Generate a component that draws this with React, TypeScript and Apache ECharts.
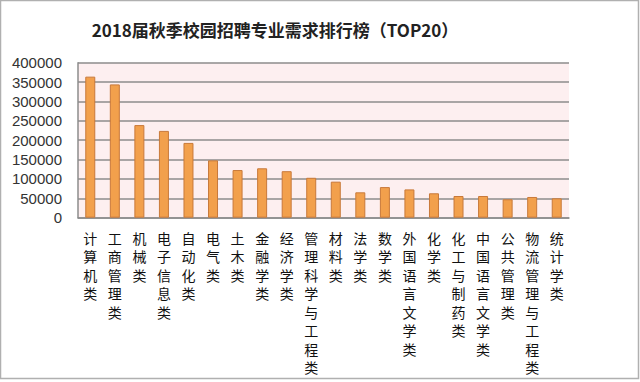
import React, { useEffect, useRef } from "react";
import * as echarts from "echarts";

const categories = [
  "计算机类", "工商管理类", "机械类", "电子信息类", "自动化类", "电气类", "土木类", "金融学类",
  "经济学类", "管理科学与工程类", "材料类", "法学类", "数学类", "外国语言文学类", "化学类",
  "化工与制药类", "中国语言文学类", "公共管理类", "物流管理与工程类", "统计学类",
];
const demand = [
  364000, 344000, 239000, 224000, 193000, 148000, 123000, 127500, 120000, 103000,
  93000, 65500, 79000, 73000, 63000, 56000, 56000, 47500, 53500, 50000,
];
const titleText = "2018届秋季校园招聘专业需求排行榜（TOP20）";

export default function App() {
  const ref = useRef<HTMLDivElement>(null);
  useEffect(() => {
    document.body.style.margin = "0";
    const chart = echarts.init(ref.current!, null, { renderer: "svg" });
    chart.setOption({
      animation: false,
      backgroundColor: "#ffffff",
      title: {
        text: titleText,
        left: 270,
        textAlign: "center",
        top: 16,
        textStyle: {
          fontFamily: "Noto Sans CJK SC",
          fontSize: 17,
          fontWeight: "bold",
          color: "#222",
        },
      },
      graphic: [
        {
          type: "rect",
          shape: { x: 0.5, y: 0.5, width: 638, height: 378 },
          style: { fill: "none", stroke: "#b0b0b0", lineWidth: 1.5 },
          silent: true,
        },
      ],
      grid: {
        left: 78,
        right: 71,
        top: 62.7,
        bottom: 164.3,
        show: true,
        backgroundColor: "#fdeff0",
        borderWidth: 0,
      },
      xAxis: {
        type: "category",
        data: categories,
        axisLine: { show: true, lineStyle: { color: "#8c8c8c", width: 1.5 } },
        axisTick: { show: false },
        axisLabel: {
          interval: 0,
          margin: 11,
          fontFamily: "Noto Sans CJK SC",
          fontSize: 14,
          lineHeight: 18.5,
          color: "#111",
          verticalAlign: "top",
          formatter: (v: string) => v.split("").join("\n"),
        },
      },
      yAxis: {
        type: "value",
        min: 0,
        max: 400000,
        interval: 50000,
        axisLine: { show: true, lineStyle: { color: "#8c8c8c", width: 1.5 } },
        axisTick: { show: false },
        splitLine: { lineStyle: { color: "#8c8c8c", width: 1.5 } },
        axisLabel: {
          margin: 16,
          fontFamily: "Liberation Sans",
          fontSize: 15,
          color: "#333",
          formatter: (v: number) => String(v),
        },
      },
      series: [
        {
          type: "bar",
          data: demand,
          barWidth: 10,
          itemStyle: {
            color: "#f2a04c",
            borderColor: "#c8793a",
            borderWidth: 1,
          },
        },
      ],
    });
    return () => chart.dispose();
  }, []);
  return (
    <div
      ref={ref}
      style={{ position: "absolute", left: 0, top: 0, width: 640, height: 382 }}
    />
  );
}
